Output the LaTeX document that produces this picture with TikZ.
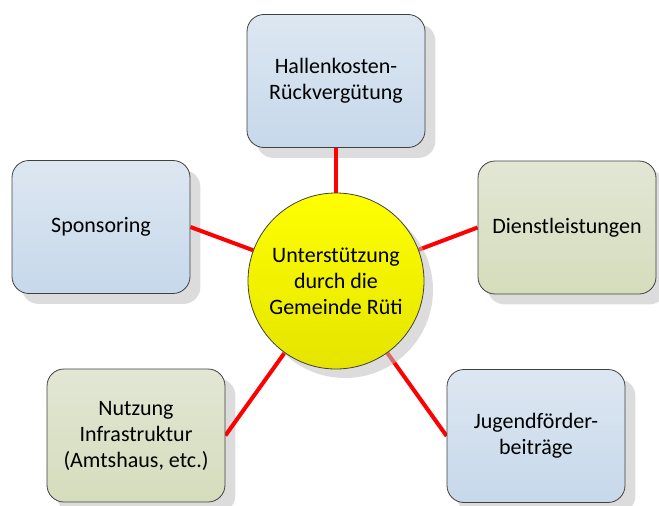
\documentclass[tikz,border=0pt]{standalone}
\usepackage{fontspec}
\setmainfont{Carlito}
\usetikzlibrary{shadows}
\pgfdeclarelayer{shadowlayer}
\pgfdeclarelayer{linklayer}
\pgfsetlayers{shadowlayer,linklayer,main}
\definecolor{bluetop}{HTML}{DDE7F1}
\definecolor{bluebot}{HTML}{C6D8EB}
\definecolor{greentop}{HTML}{E2E6D4}
\definecolor{greenbot}{HTML}{D5DDBC}
\definecolor{yeltop}{HTML}{FFFF00}
\definecolor{yelbot}{HTML}{E4E400}
\definecolor{edgegray}{HTML}{404040}
\definecolor{linkred}{HTML}{FF0000}
\definecolor{shadowgray}{HTML}{DCDCDC}
\tikzset{
  boxbase/.style={rectangle, rounded corners=17pt, draw=edgegray, line width=0.8pt,
    minimum width=178pt, minimum height=133pt, align=center, text=black,
    font=\fontsize{22}{26}\selectfont},
  bluebox/.style={boxbase, top color=bluetop, bottom color=bluebot},
  greenbox/.style={boxbase, top color=greentop, bottom color=greenbot},
  hub/.style={circle, draw=edgegray, line width=0.8pt, minimum size=176pt, inner sep=0pt,
    top color=yeltop, bottom color=yelbot, align=center, text=black,
    font=\fontsize{22}{26}\selectfont,
    drop shadow={shadow xshift=9pt, shadow yshift=-9pt, fill=black!25, opacity=0.55}},
  boxshadow/.style={fill=shadowgray, rounded corners=17pt},
  link/.style={draw=linkred, line width=4pt}
}
\newcommand{\boxshadowof}[1]{%
  \fill[boxshadow] ([xshift=10pt,yshift=-10pt]#1.north west) rectangle ([xshift=10pt,yshift=-10pt]#1.south east);}
\begin{document}
\begin{tikzpicture}[x=1pt,y=-1pt]
\useasboundingbox (0,0) rectangle (659,506);
\node[bluebox] (top) at (336,81) {Hallenkosten-\\Rückvergütung};
\node[bluebox] (spons) at (101,227) {Sponsoring};
\node[greenbox] (dienst) at (567,227.5) {Dienstleistungen};
\node[greenbox] (nutz) at (136,435.5) {Nutzung\\Infrastruktur\\(Amtshaus, etc.)};
\node[bluebox] (jugend) at (536,436) {Jugendförder-\\beiträge};
\node[hub] (hub) at (336,281) {Unterstützung\\durch die\\Gemeinde Rüti};
\begin{pgfonlayer}{shadowlayer}
\boxshadowof{top}
\boxshadowof{spons}
\boxshadowof{dienst}
\boxshadowof{nutz}
\boxshadowof{jugend}
\end{pgfonlayer}
\begin{pgfonlayer}{linklayer}
\draw[link] (top.south) -- (hub);
\draw[link] (spons.east) -- (hub);
\draw[link] (dienst.west) -- (hub);
\draw[link] (nutz.east) -- (hub);
\draw[link] (jugend.west) -- (hub);
\end{pgfonlayer}
\end{tikzpicture}
\end{document}
